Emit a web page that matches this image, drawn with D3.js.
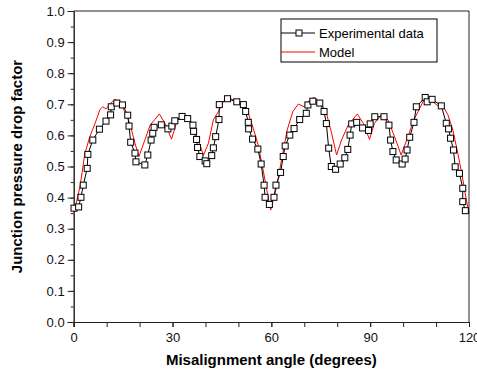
<!DOCTYPE html>
<html>
<head>
<meta charset="utf-8">
<script src="https://cdn.jsdelivr.net/npm/d3@7"></script>
<style>
  html, body { margin: 0; padding: 0; background: #fff; }
  svg { display: block; font-family: Arial, "Liberation Sans", sans-serif; }
</style>
</head>
<body>
<svg id="chart"></svg>
<script>
const WIDTH = 477;
const HEIGHT = 374;
const PLOT = { left: 73.7, top: 11, width: 395.3, height: 311 };

// experimental points (angle in degrees, factor)
const expAngle = [
  0.1, 1.5, 2.2, 2.9, 4.1, 4.3, 5.8, 7.8, 9.8, 11.2, 11.4, 13.1, 14.8, 16.4, 16.8, 17.3,
  18.6, 18.9, 21.6, 22.5, 23.5, 24.0, 24.4, 26.6, 28.6, 29.8, 30.7, 32.9, 34.6, 36.2,
  36.4, 37.3, 37.6, 38.3, 39.9, 40.4, 41.9, 42.4, 43.1, 44.1, 44.2, 46.7, 49.5, 51.5,
  52.2, 53.0, 53.1, 54.3, 55.9, 56.9, 57.8, 58.1, 59.4, 60.8, 61.4, 62.8, 63.6, 64.2,
  65.6, 66.9, 68.6, 70.6, 71.1, 72.6, 74.7, 76.0, 76.7, 77.4, 78.2, 79.5, 80.9, 82.3,
  83.2, 83.9, 84.4, 85.9, 87.7, 89.5, 90.0, 91.4, 94.2, 95.7, 96.2, 96.9, 97.9, 99.7,
  100.6, 101.2, 102.0, 103.3, 104.0, 106.7, 107.3, 108.8, 111.6, 113.1, 113.8, 114.4,
  115.3, 115.8, 117.1, 118.1, 118.1, 118.9
];
const expFactor = [
  0.366, 0.370, 0.401, 0.440, 0.494, 0.539, 0.585, 0.620, 0.646, 0.666, 0.692, 0.704, 0.698, 0.665, 0.630, 0.578,
  0.543, 0.515, 0.505, 0.537, 0.585, 0.607, 0.626, 0.634, 0.621, 0.630, 0.647, 0.661, 0.654, 0.633,
  0.613, 0.587, 0.561, 0.532, 0.518, 0.509, 0.535, 0.560, 0.596, 0.651, 0.699, 0.718, 0.708, 0.699,
  0.677, 0.642, 0.621, 0.588, 0.556, 0.508, 0.440, 0.401, 0.378, 0.401, 0.440, 0.481, 0.532, 0.566,
  0.601, 0.622, 0.651, 0.671, 0.698, 0.710, 0.704, 0.677, 0.638, 0.559, 0.500, 0.491, 0.508, 0.528,
  0.555, 0.601, 0.637, 0.642, 0.624, 0.616, 0.637, 0.660, 0.660, 0.633, 0.585, 0.548, 0.521, 0.508,
  0.524, 0.553, 0.594, 0.642, 0.692, 0.722, 0.708, 0.716, 0.695, 0.639, 0.621, 0.591,
  0.553, 0.499, 0.478, 0.430, 0.387, 0.358
];

// model curve
const modelAngle = [
  0, 1.9, 3.4, 4.9, 6.5, 8.0, 8.8, 9.8, 11.2, 12.6, 14.2, 15.1, 16.1, 17.3, 18.6, 19.8,
  21.6, 23.2, 24.7, 26.0, 27.7, 29.7, 31.3, 33.1, 34.8, 36.3, 37.8, 39.4, 40.9, 42.4,
  43.9, 45.4, 46.7, 48.4, 49.9, 51.5, 53.0, 54.5, 56.0, 57.5, 58.8, 59.8, 61.6, 63.1,
  64.8, 66.5, 68.2, 69.9, 71.7, 72.9, 74.7, 76.6, 78.3, 79.8, 81.3, 83.3, 86.1, 87.9,
  89.8, 91.3, 93.6, 95.4, 97.4, 99.4, 101.5, 103.0, 104.5, 106.0, 107.3, 109.0, 110.6,
  111.8, 113.6, 115.1, 116.4, 117.8, 119.2, 120
];
const modelFactor = [
  0.346, 0.435, 0.542, 0.596, 0.639, 0.684, 0.692, 0.685, 0.703, 0.716, 0.705, 0.684, 0.666, 0.628, 0.575, 0.532,
  0.585, 0.633, 0.652, 0.669, 0.639, 0.588, 0.644, 0.669, 0.660, 0.628, 0.585, 0.536, 0.575, 0.650,
  0.676, 0.708, 0.724, 0.714, 0.701, 0.703, 0.671, 0.623, 0.569, 0.489, 0.414, 0.360, 0.435, 0.521,
  0.617, 0.676, 0.701, 0.692, 0.714, 0.722, 0.708, 0.676, 0.607, 0.537, 0.585, 0.633, 0.669, 0.639,
  0.587, 0.639, 0.669, 0.650, 0.596, 0.537, 0.596, 0.644, 0.676, 0.708, 0.724, 0.708, 0.695,
  0.701, 0.666, 0.617, 0.553, 0.478, 0.392, 0.350
];

const xMajorTicks = [0, 30, 60, 90, 120];
const xMinorTicks = d3.range(0, 121, 10);
const yMajorTicks = d3.range(0, 1.01, 0.1);
const yMinorTicks = d3.range(0, 1.01, 0.05);

const legendLabels = ['Experimental data', 'Model'];
const xTitle = 'Misalignment angle (degrees)';
const yTitle = 'Junction pressure drop factor';

const svg = d3.select('#chart')
  .attr('width', WIDTH)
  .attr('height', HEIGHT);

const chart = svg.append('g')
  .attr('transform', `translate(${PLOT.left}, ${PLOT.top})`);

const x = d3.scaleLinear().domain([0, 120]).range([0, PLOT.width]);
const y = d3.scaleLinear().domain([0, 1]).range([PLOT.height, 0]);

// minor ticks first, then labelled axes on top
chart.append('g')
  .attr('transform', `translate(0, ${PLOT.height})`)
  .call(d3.axisBottom(x).tickValues(xMinorTicks).tickSize(5).tickFormat(''));
chart.append('g')
  .call(d3.axisLeft(y).tickValues(yMinorTicks).tickSize(3).tickFormat(''));

const xAxis = chart.append('g')
  .attr('transform', `translate(0, ${PLOT.height})`)
  .call(d3.axisBottom(x).tickValues(xMajorTicks).tickSize(5).tickPadding(6).tickFormat(d3.format('d')));
const yAxis = chart.append('g')
  .call(d3.axisLeft(y).tickValues(yMajorTicks).tickSize(6).tickPadding(3).tickFormat(d3.format('.1f')));

[xAxis, yAxis].forEach(a => {
  a.selectAll('text').style('font-size', '13px').style('fill', '#111');
});
chart.selectAll('.domain').attr('stroke', '#222');
chart.selectAll('.tick line').attr('stroke', '#222');

// top and right frame
chart.append('path')
  .attr('d', `M0,0H${PLOT.width}V${PLOT.height}`)
  .attr('fill', 'none')
  .attr('stroke', '#222');

// axis titles
svg.append('text')
  .attr('x', PLOT.left + PLOT.width / 2)
  .attr('y', 365)
  .attr('text-anchor', 'middle')
  .style('font-size', '15px')
  .style('font-weight', 'bold')
  .text(xTitle);

svg.append('text')
  .attr('transform', `translate(22, ${PLOT.top + PLOT.height / 2}) rotate(-90)`)
  .attr('text-anchor', 'middle')
  .style('font-size', '15px')
  .style('font-weight', 'bold')
  .text(yTitle);

// model line
const modelPts = modelAngle.map((a, i) => [a, modelFactor[i]]);
chart.append('path')
  .datum(modelPts)
  .attr('fill', 'none')
  .attr('stroke', '#ff0000')
  .attr('stroke-width', 1)
  .attr('d', d3.line().x(d => x(d[0])).y(d => y(d[1])));

// experimental line + squares
const expPts = expAngle.map((a, i) => [a, expFactor[i]]);
chart.append('path')
  .datum(expPts)
  .attr('fill', 'none')
  .attr('stroke', '#000')
  .attr('stroke-width', 1)
  .attr('d', d3.line().x(d => x(d[0])).y(d => y(d[1])));

const SQ = 6;
chart.selectAll('rect.exp')
  .data(expPts)
  .enter()
  .append('rect')
  .attr('class', 'exp')
  .attr('x', d => x(d[0]) - SQ / 2)
  .attr('y', d => y(d[1]) - SQ / 2)
  .attr('width', SQ)
  .attr('height', SQ)
  .attr('fill', '#fff')
  .attr('stroke', '#000')
  .attr('stroke-width', 1);

// legend
const legend = svg.append('g').attr('transform', 'translate(281, 19)');
legend.append('rect')
  .attr('width', 156)
  .attr('height', 43)
  .attr('fill', '#fff')
  .attr('stroke', '#000');

legend.append('line')
  .attr('x1', 0).attr('x2', 34).attr('y1', 14).attr('y2', 14)
  .attr('stroke', '#000');
legend.append('rect')
  .attr('x', 18 - 3).attr('y', 14 - 3).attr('width', 6).attr('height', 6)
  .attr('fill', '#fff').attr('stroke', '#000');
legend.append('line')
  .attr('x1', 0).attr('x2', 34).attr('y1', 33).attr('y2', 33)
  .attr('stroke', '#ff0000');

legend.selectAll('text.lbl')
  .data(legendLabels)
  .enter()
  .append('text')
  .attr('class', 'lbl')
  .attr('x', 38)
  .attr('y', (d, i) => 14 + i * 19)
  .attr('dy', '0.35em')
  .style('font-size', '13px')
  .text(d => d);
</script>
</body>
</html>
